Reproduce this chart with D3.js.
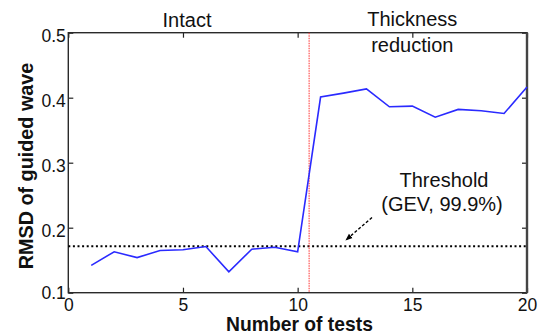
<!DOCTYPE html>
<html><head><meta charset="utf-8">
<script src="https://cdn.jsdelivr.net/npm/d3@7"></script>
<style>body{margin:0;background:#fff}svg text{font-family:"Liberation Sans",Arial,sans-serif}</style>
</head><body><svg id="c" width="542" height="334"></svg>
<script>
const tests = d3.range(1, 21);
const rmsd = [0.142,0.163,0.154,0.165,0.166,0.171,0.132,0.167,0.170,0.163,
              0.401,0.407,0.4135,0.386,0.387,0.370,0.382,0.380,0.3757,0.4166];
const threshold = 0.1715;
const damageStart = 10.5;
const xTicks = [0,5,10,15,20];
const yTicks = [0.1,0.2,0.3,0.4,0.5];

const svg = d3.select("#c");
const W = 542, H = 334;
const m = {l:68.3, r:W-527, t:32.7, b:H-292.7};
const x = d3.scaleLinear().domain([0,20]).range([m.l, W-m.r]);
const y = d3.scaleLinear().domain([0.1,0.5]).range([H-m.b, m.t]);

svg.append("defs").append("marker").attr("id","ah").attr("viewBox","0 0 10 10")
  .attr("refX",9).attr("refY",5).attr("markerWidth",7).attr("markerHeight",7).attr("orient","auto")
  .attr("markerUnits","userSpaceOnUse")
  .append("path").attr("d","M0,1 L10,5 L0,9 Z").attr("fill","#000");

const fmtY = d3.format(".1f");
const gx = svg.append("g").attr("transform",`translate(0,${y(0.1)})`)
  .call(d3.axisBottom(x).tickValues(xTicks).tickSizeInner(-5).tickSizeOuter(0).tickPadding(0));
const gxt = svg.append("g").attr("transform",`translate(0,${y(0.5)})`)
  .call(d3.axisTop(x).tickValues(xTicks).tickSizeInner(-5).tickSizeOuter(0).tickFormat(""));
const gy = svg.append("g").attr("transform",`translate(${x(0)},0)`)
  .call(d3.axisLeft(y).tickValues(yTicks).tickSizeInner(-5).tickSizeOuter(0).tickPadding(2.5).tickFormat(fmtY));
const gyr = svg.append("g").attr("transform",`translate(${x(20)},0)`)
  .call(d3.axisRight(y).tickValues(yTicks).tickSizeInner(-5).tickSizeOuter(0).tickFormat(""));
[gx,gxt,gy,gyr].forEach(g=>{
  g.select(".domain").remove();
  g.selectAll("line").attr("stroke","#222").attr("stroke-width",1.2);
  g.selectAll("text").attr("font-size",17.5).attr("fill","#111").attr("font-family","Liberation Sans, Arial, sans-serif");
});
gx.selectAll("text").attr("y",18.6).attr("dy",null);
gy.selectAll("text").attr("dy",null).attr("y",d => d === 0.1 ? 5.6 : 9);

svg.append("rect").attr("x",x(0)).attr("y",y(0.5)).attr("width",x(20)-x(0)).attr("height",y(0.1)-y(0.5))
  .attr("fill","none").attr("stroke","#2a2a2a").attr("stroke-width",1.4);
svg.append("line").attr("x1",x(20)).attr("x2",x(20)).attr("y1",y(0.5)).attr("y2",y(0.1))
  .attr("stroke","#444").attr("stroke-width",2.4);

// threshold
svg.append("line").attr("x1",x(0)).attr("x2",x(20)).attr("y1",y(threshold)).attr("y2",y(threshold))
  .attr("stroke","#000").attr("stroke-width",2.2).attr("stroke-dasharray","2,2.6");
// damage line
svg.append("line").attr("x1",x(damageStart)).attr("x2",x(damageStart)).attr("y1",y(0.5)).attr("y2",y(0.1))
  .attr("stroke","#ff4040").attr("stroke-width",1.1).attr("stroke-dasharray","1.5,1");

// data
const line = d3.line().x((d,i)=>x(tests[i])).y(d=>y(d));
svg.append("path").datum(rmsd).attr("d",line).attr("fill","none").attr("stroke","#2a2aff").attr("stroke-width",1.6);

// annotations
const t = (txt,xx,yy,opts={})=>svg.append("text").attr("x",xx).attr("y",yy).attr("text-anchor",opts.anchor||"middle")
  .attr("font-size",opts.size||20).attr("font-weight",opts.bold?"bold":"normal").attr("fill","#111").text(txt);
t("Intact", 187, 26.7);
t("Thickness", 412.3, 26);
t("reduction", 412.3, 51.7);
t("Threshold", 444, 186.7);
t("(GEV, 99.9%)", 442, 210.5);
svg.append("line").attr("x1",372).attr("y1",217.5).attr("x2",346).attr("y2",240)
  .attr("stroke","#000").attr("stroke-width",1.4).attr("stroke-dasharray","3,2").attr("marker-end","url(#ah)");

t("Number of tests", 299.5, 330.5, {bold:true, size:19.3});
svg.append("text").attr("transform",`translate(33,${166}) rotate(-90)`).attr("text-anchor","middle")
  .attr("font-size",19.8).attr("font-weight","bold").attr("fill","#111").text("RMSD of guided wave");
</script></body></html>
